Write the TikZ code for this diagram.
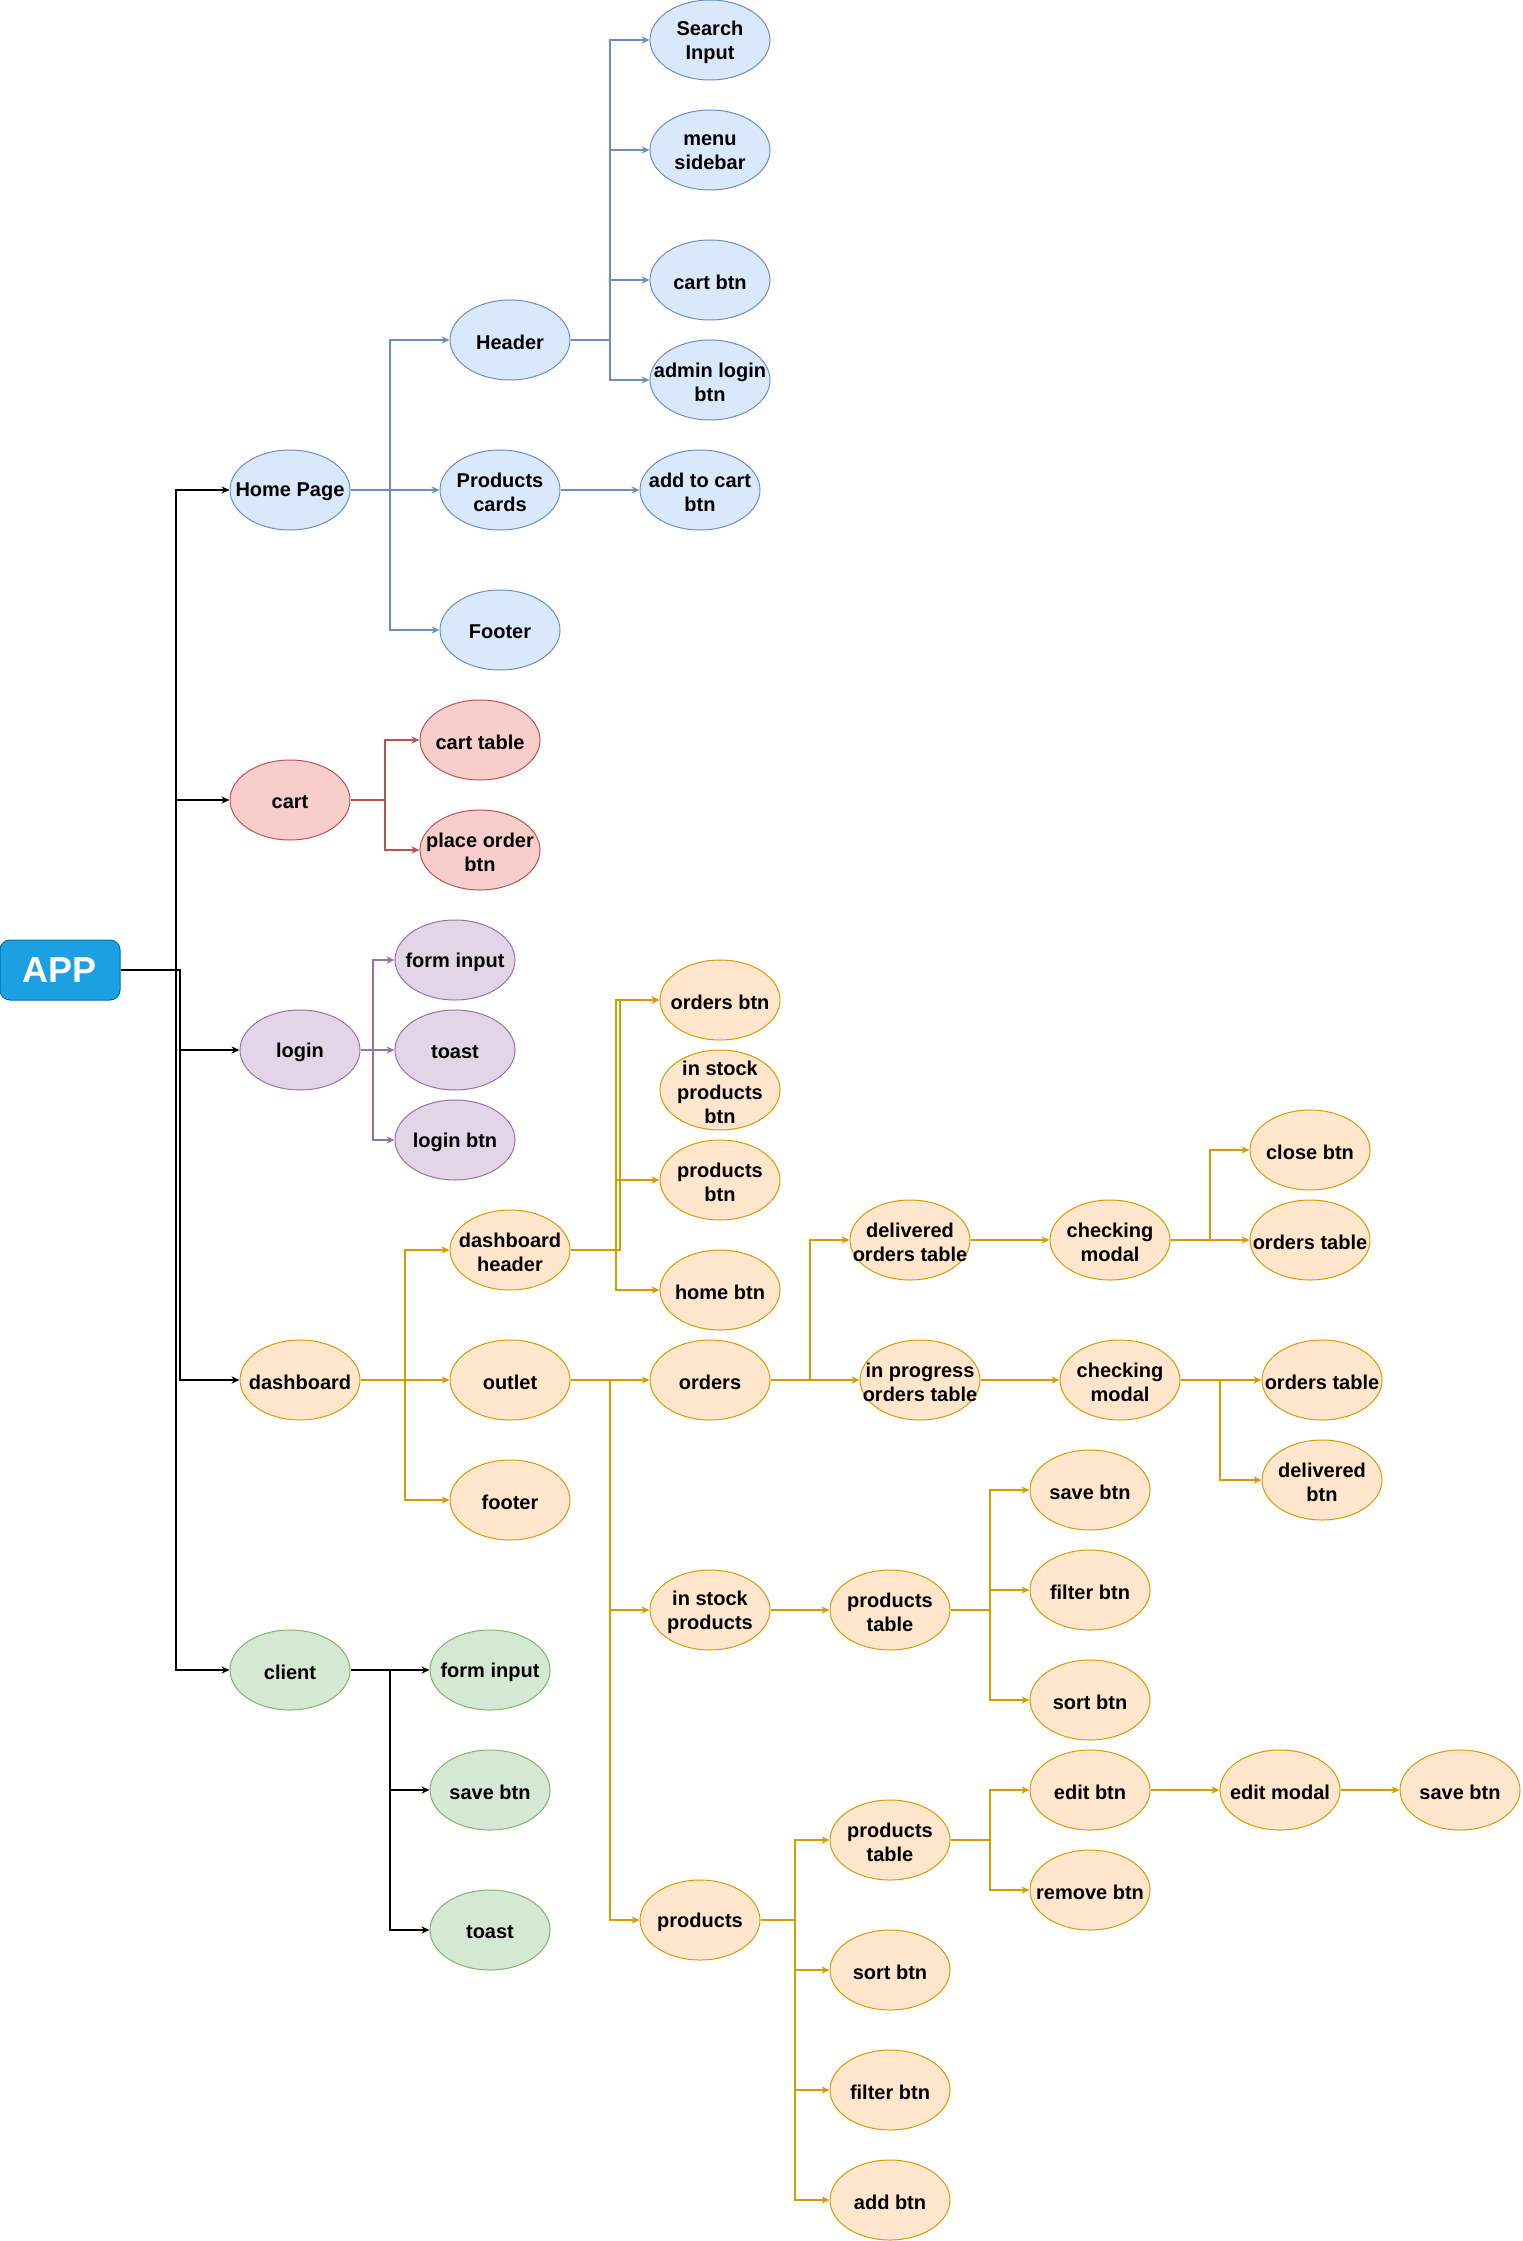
\documentclass[tikz,border=0pt]{standalone}
\usepackage{fontspec}
\setmainfont{Liberation Sans}
\usetikzlibrary{shapes.geometric,arrows.meta}
\definecolor{blueF}{HTML}{DAE8FC}\definecolor{blueS}{HTML}{6C8EBF}
\definecolor{redF}{HTML}{F8CECC}\definecolor{redS}{HTML}{B85450}
\definecolor{purF}{HTML}{E1D5E7}\definecolor{purS}{HTML}{9673A6}
\definecolor{oraF}{HTML}{FFE6CC}\definecolor{oraS}{HTML}{D79B00}
\definecolor{grnF}{HTML}{D5E8D4}\definecolor{grnS}{HTML}{82B366}
\definecolor{appF}{HTML}{1BA1E2}\definecolor{appS}{HTML}{006EAF}
\begin{document}
\begin{tikzpicture}[x=0.5pt,y=-0.5pt,
  txt/.style={font=\bfseries\fontsize{10}{12}\selectfont, align=center, text=black, inner sep=0pt, yshift=-1pt},
  bub/.style={ellipse, minimum width=60pt, minimum height=40pt, inner sep=0pt, line width=0.5pt},
  blue/.style={bub, draw=blueS, fill=blueF},
  red/.style={bub, draw=redS, fill=redF},
  pur/.style={bub, draw=purS, fill=purF},
  ora/.style={bub, draw=oraS, fill=oraF},
  grn/.style={bub, draw=grnS, fill=grnF},
  tip/.style={-{Stealth[length=4pt,width=3.6pt,inset=1.3pt]}},
  eK/.style={tip, draw=black, line width=0.65pt},
  eB/.style={tip, draw=blueS, line width=0.6pt},
  eR/.style={tip, draw=redS, line width=0.6pt},
  eP/.style={tip, draw=purS, line width=0.6pt},
  eO/.style={tip, draw=oraS, line width=0.6pt},
]
\useasboundingbox (0,0) rectangle (1522,2241);

% root
\node[rectangle, rounded corners=5pt, minimum width=60pt, minimum height=30pt,
      fill=appF, draw=appS, line width=0.5pt, text=white,
      font=\bfseries\fontsize{18}{20}\selectfont] (app) at (60,970) {APP};

% home page branch
\node[blue, label={[txt]center:Home Page}] (hp) at (290,490) {};
\node[blue, label={[txt]center:Header}] (hdr) at (510,340) {};
\node[blue, label={[txt]center:{Search\\Input}}] (srch) at (710,40) {};
\node[blue, label={[txt]center:{menu\\sidebar}}] (menu) at (710,150) {};
\node[blue, label={[txt]center:cart btn}] (cbtn) at (710,280) {};
\node[blue, label={[txt]center:{admin login\\btn}}] (adm) at (710,380) {};
\node[blue, label={[txt]center:{Products\\cards}}] (pc) at (500,490) {};
\node[blue, label={[txt]center:{add to cart\\btn}}] (atc) at (700,490) {};
\node[blue, label={[txt]center:Footer}] (ftr) at (500,630) {};

% cart branch
\node[red, label={[txt]center:cart}] (cart) at (290,800) {};
\node[red, label={[txt]center:cart table}] (ctab) at (480,740) {};
\node[red, label={[txt]center:{place order\\btn}}] (pob) at (480,850) {};

% login branch
\node[pur, label={[txt]center:login}] (login) at (300,1050) {};
\node[pur, label={[txt]center:form input}] (lfi) at (455,960) {};
\node[pur, label={[txt]center:toast}] (lto) at (455,1050) {};
\node[pur, label={[txt]center:login btn}] (lbt) at (455,1140) {};

% dashboard branch
\node[ora, label={[txt]center:dashboard}] (dash) at (300,1380) {};
\node[ora, label={[txt]center:{dashboard\\header}}] (dh) at (510,1250) {};
\node[ora, label={[txt]center:outlet}] (outl) at (510,1380) {};
\node[ora, label={[txt]center:footer}] (dft) at (510,1500) {};
\node[ora, label={[txt]center:orders btn}] (obtn) at (720,1000) {};
\node[ora, label={[txt]center:{in stock\\products\\btn}}] (isb) at (720,1090) {};
\node[ora, label={[txt]center:{products\\btn}}] (pbtn) at (720,1180) {};
\node[ora, label={[txt]center:home btn}] (hbtn) at (720,1290) {};
\node[ora, label={[txt]center:orders}] (ord) at (710,1380) {};
\node[ora, label={[txt]center:{delivered\\orders table}}] (dot) at (910,1240) {};
\node[ora, label={[txt]center:{checking\\modal}}] (cm1) at (1110,1240) {};
\node[ora, label={[txt]center:close btn}] (cls) at (1310,1150) {};
\node[ora, label={[txt]center:orders table}] (ot1) at (1310,1240) {};
\node[ora, label={[txt]center:{in progress\\orders table}}] (ipot) at (920,1380) {};
\node[ora, label={[txt]center:{checking\\modal}}] (cm2) at (1120,1380) {};
\node[ora, label={[txt]center:orders table}] (ot2) at (1322,1380) {};
\node[ora, label={[txt]center:{delivered\\btn}}] (dbtn) at (1322,1480) {};
\node[ora, label={[txt]center:{in stock\\products}}] (isp) at (710,1610) {};
\node[ora, label={[txt]center:{products\\table}}] (ptab1) at (890,1610) {};
\node[ora, label={[txt]center:save btn}] (sv1) at (1090,1490) {};
\node[ora, label={[txt]center:filter btn}] (flt1) at (1090,1590) {};
\node[ora, label={[txt]center:sort btn}] (srt1) at (1090,1700) {};
\node[ora, label={[txt]center:products}] (prod) at (700,1920) {};
\node[ora, label={[txt]center:{products\\table}}] (ptab2) at (890,1840) {};
\node[ora, label={[txt]center:sort btn}] (srt2) at (890,1970) {};
\node[ora, label={[txt]center:filter btn}] (flt2) at (890,2090) {};
\node[ora, label={[txt]center:add btn}] (addb) at (890,2200) {};
\node[ora, label={[txt]center:edit btn}] (edit) at (1090,1790) {};
\node[ora, label={[txt]center:remove btn}] (rem) at (1090,1890) {};
\node[ora, label={[txt]center:edit modal}] (emod) at (1280,1790) {};
\node[ora, label={[txt]center:save btn}] (sv2) at (1460,1790) {};

% client branch
\node[grn, label={[txt]center:client}] (client) at (290,1670) {};
\node[grn, label={[txt]center:form input}] (gfi) at (490,1670) {};
\node[grn, label={[txt]center:save btn}] (gsv) at (490,1790) {};
\node[grn, label={[txt]center:toast}] (gto) at (490,1930) {};

% junction points
\coordinate (jA) at (176,970);
\coordinate (jA2) at (180,970);
\coordinate (jHP) at (390,490);
\coordinate (jHd) at (610,340);
\coordinate (jC) at (385,800);
\coordinate (jL) at (373,1050);
\coordinate (jD) at (405,1380);
\coordinate (jDH) at (620,1250);
\coordinate (jDH2) at (616,1250);
\coordinate (jO) at (610,1380);
\coordinate (jOr) at (810,1380);
\coordinate (jCM1) at (1210,1240);
\coordinate (jCM2) at (1220,1380);
\coordinate (jPT1) at (990,1610);
\coordinate (jPr) at (795,1920);
\coordinate (jPT2) at (990,1840);
\coordinate (jCl) at (390,1670);

% root connectors
\draw[eK] (app.east) -- (jA) |- (hp.west);
\draw[eK] (app.east) -- (jA) |- (cart.west);
\draw[eK] (app.east) -- (jA2) |- (login.west);
\draw[eK] (app.east) -- (jA2) |- (dash.west);
\draw[eK] (app.east) -- (jA) |- (client.west);

% home page connectors
\draw[eB] (hp.east) -- (jHP) |- (hdr.west);
\draw[eB] (hp.east) -- (pc.west);
\draw[eB] (hp.east) -- (jHP) |- (ftr.west);
\draw[eB] (pc.east) -- (atc.west);
\draw[eB] (hdr.east) -- (jHd) |- (srch.west);
\draw[eB] (hdr.east) -- (jHd) |- (menu.west);
\draw[eB] (hdr.east) -- (jHd) |- (cbtn.west);
\draw[eB] (hdr.east) -- (jHd) |- (adm.west);

% cart connectors
\draw[eR] (cart.east) -- (jC) |- (ctab.west);
\draw[eR] (cart.east) -- (jC) |- (pob.west);

% login connectors
\draw[eP] (login.east) -- (jL) |- (lfi.west);
\draw[eP] (login.east) -- (lto.west);
\draw[eP] (login.east) -- (jL) |- (lbt.west);

% dashboard connectors
\draw[eO] (dash.east) -- (jD) |- (dh.west);
\draw[eO] (dash.east) -- (outl.west);
\draw[eO] (dash.east) -- (jD) |- (dft.west);
\draw[eO] (dh.east) -- (jDH) |- (obtn.west);
\draw[eO] (dh.east) -- (jDH2) |- (obtn.west);
\draw[eO] (dh.east) -- (jDH2) |- (pbtn.west);
\draw[eO] (dh.east) -- (jDH2) |- (hbtn.west);
\draw[eO] (outl.east) -- (ord.west);
\draw[eO] (outl.east) -- (jO) |- (isp.west);
\draw[eO] (outl.east) -- (jO) |- (prod.west);
\draw[eO] (ord.east) -- (jOr) |- (dot.west);
\draw[eO] (ord.east) -- (ipot.west);
\draw[eO] (dot.east) -- (cm1.west);
\draw[eO] (cm1.east) -- (jCM1) |- (cls.west);
\draw[eO] (cm1.east) -- (ot1.west);
\draw[eO] (ipot.east) -- (cm2.west);
\draw[eO] (cm2.east) -- (ot2.west);
\draw[eO] (cm2.east) -- (jCM2) |- (dbtn.west);
\draw[eO] (isp.east) -- (ptab1.west);
\draw[eO] (ptab1.east) -- (jPT1) |- (sv1.west);
\draw[eO] (ptab1.east) -- (jPT1) |- (flt1.west);
\draw[eO] (ptab1.east) -- (jPT1) |- (srt1.west);
\draw[eO] (prod.east) -- (jPr) |- (ptab2.west);
\draw[eO] (prod.east) -- (jPr) |- (srt2.west);
\draw[eO] (prod.east) -- (jPr) |- (flt2.west);
\draw[eO] (prod.east) -- (jPr) |- (addb.west);
\draw[eO] (ptab2.east) -- (jPT2) |- (edit.west);
\draw[eO] (ptab2.east) -- (jPT2) |- (rem.west);
\draw[eO] (edit.east) -- (emod.west);
\draw[eO] (emod.east) -- (sv2.west);

% client connectors
\draw[eK] (client.east) -- (jCl) |- (gfi.west);
\draw[eK] (client.east) -- (jCl) |- (gsv.west);
\draw[eK] (client.east) -- (jCl) |- (gto.west);
\end{tikzpicture}
\end{document}
